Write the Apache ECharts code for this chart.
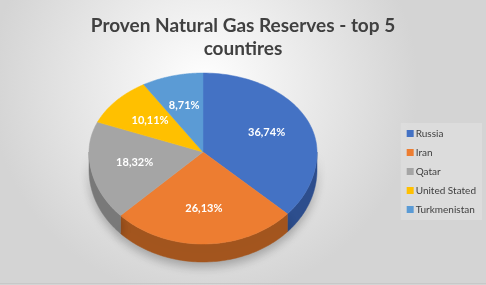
<!DOCTYPE html>
<html><head><meta charset="utf-8">
<script src="https://cdn.jsdelivr.net/npm/echarts@6/dist/echarts.min.js"></script>
<style>html,body{margin:0;padding:0;}#c{width:486px;height:285px;}</style>
</head><body><div id="c"></div>
<script>
const categories = ['Russia', 'Iran', 'Qatar', 'United Stated', 'Turkmenistan'];
const shares = [36.74, 26.13, 18.32, 10.11, 8.71];
const colors = ['#4472C4', '#ED7D31', '#A5A5A5', '#FFC000', '#5B9BD5'];
const wallColors = ['#2E4F8F', '#A4561F', '#7A7A7A', '#B38600', '#3E6E9C'];
const titleText = 'Proven Natural Gas Reserves - top 5\ncountires';

const total = shares.reduce((s, v) => s + v, 0);
const geo = { cx: 203, cy: 152, a: 114, bUp: 79, bDown: 92, depth: 18, labelR: 0.61 };

function makeRender(i) {
  return function (params, api) {
    const v = api.value(0);
    let before = 0;
    for (let k = 0; k < i; k++) before += shares[k];
    const t0 = -Math.PI / 2 + 2 * Math.PI * before / total;
    const t1 = t0 + 2 * Math.PI * v / total;
    const { cx, cy, a, bUp, bDown, depth } = geo;
    const pt = (t, dy, r) => {
      const s = Math.sin(t), rr = r == null ? 1 : r;
      return [cx + rr * a * Math.cos(t), cy + rr * (s < 0 ? bUp : bDown) * s + (dy || 0)];
    };
    const N = 80;
    const top = [[cx, cy]];
    for (let s = 0; s <= N; s++) top.push(pt(t0 + (t1 - t0) * s / N));
    const children = [];
    const w0 = Math.max(t0, 0), w1 = Math.min(t1, Math.PI);
    if (w1 > w0) {
      const wall = [];
      for (let s = 0; s <= N; s++) wall.push(pt(w0 + (w1 - w0) * s / N));
      for (let s = N; s >= 0; s--) wall.push(pt(w0 + (w1 - w0) * s / N, depth));
      children.push({
        type: 'polygon', shape: { points: wall },
        style: { fill: wallColors[i], stroke: wallColors[i], lineWidth: 0.5,
          shadowColor: 'rgba(0,0,0,0.25)', shadowBlur: 10, shadowOffsetY: 5 }
      });
    }
    children.push({
      type: 'polygon', shape: { points: top },
      style: { fill: colors[i], stroke: colors[i], lineWidth: 0.5 }
    });
    const tm = (t0 + t1) / 2;
    const lp = pt(tm, 0, geo.labelR);
    children.push({
      type: 'text', x: lp[0], y: lp[1],
      style: {
        text: v.toFixed(2).replace('.', ',') + '%',
        fill: '#ffffff', font: 'bold 11px Lato', align: 'center', verticalAlign: 'middle'
      }
    });
    return { type: 'group', children: children };
  };
}

const chart = echarts.init(document.getElementById('c'));
chart.setOption({
  animation: false,
  backgroundColor: {
    type: 'radial', x: 0.42, y: 0.3, r: 0.75,
    colorStops: [{ offset: 0, color: '#ffffff' }, { offset: 1, color: '#d4d4d4' }]
  },
  title: {
    text: titleText, left: 'center', top: 9,
    textStyle: { fontFamily: 'Lato', fontWeight: 'bold', fontSize: 19, color: '#404040', lineHeight: 23 }
  },
  legend: {
    orient: 'vertical', right: 4, top: 123,
    data: categories,
    icon: 'rect', itemWidth: 7, itemHeight: 7, itemGap: 8,
    backgroundColor: 'rgba(225,225,225,0.6)', padding: [5, 6, 5, 6],
    textStyle: { fontFamily: 'Lato', fontSize: 10, color: '#404040', padding: [0, 0, 0, -3], height: 11, lineHeight: 11 }
  },
  series: categories.map((name, i) => ({
    type: 'custom', name: name, coordinateSystem: 'none',
    itemStyle: { color: colors[i] },
    data: [[shares[i]]],
    renderItem: makeRender(i)
  })),
  graphic: [{
    type: 'line', shape: { x1: 0, y1: 283.5, x2: 486, y2: 283.5 },
    style: { stroke: '#c8c8c8', lineWidth: 1 }, silent: true
  }]
});
</script></body></html>
